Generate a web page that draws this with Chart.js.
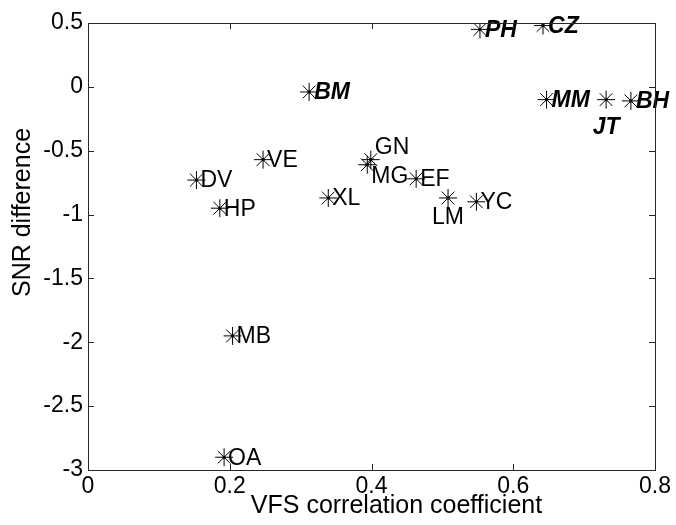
<!DOCTYPE html>
<html>
<head>
<meta charset="UTF-8">
<title>SNR difference vs VFS correlation</title>
<script src="https://cdn.jsdelivr.net/npm/chart.js"></script>
<style>
  body { margin: 0; background: #fff; }
  #wrap { width: 676px; height: 525px; }
</style>
</head>
<body>
<div id="wrap"><canvas id="chart"></canvas></div>
<script>
// subjects
const names = ['DV', 'HP', 'VE', 'BM', 'XL', 'GN', 'MG', 'EF', 'LM', 'YC', 'PH', 'CZ', 'MM', 'JT', 'BH', 'MB', 'OA'];
const vfsCorr = [0.153, 0.186, 0.247, 0.312, 0.339, 0.399, 0.394, 0.463, 0.508, 0.548, 0.553, 0.642, 0.647, 0.731, 0.766, 0.204, 0.192];
const snrDiff = [-0.73, -0.95, -0.57, -0.04, -0.87, -0.57, -0.61, -0.72, -0.87, -0.90, 0.45, 0.48, -0.10, -0.10, -0.11, -1.95, -2.90];

const xTicks = [0, 0.2, 0.4, 0.6, 0.8];
const yTicks = [0.5, 0, -0.5, -1, -1.5, -2, -2.5, -3];
const xTitle = 'VFS correlation coefficient';
const yTitle = 'SNR difference';

// label styling
const boldNames = ['BM', 'PH', 'CZ', 'MM', 'JT', 'BH'];
const labelPlace = {
    GN: { dx: 4, dy: -12, align: 'left' },
    MG: { dx: 4, dy: 12, align: 'left' },
    LM: { dx: 0, dy: 20, align: 'center' },
    JT: { dx: 0, dy: 28, align: 'center' }
};

const FONT = "'Liberation Sans', Arial, sans-serif";
const points = names.map((n, i) => ({ x: vfsCorr[i], y: snrDiff[i] }));

// frame with inward ticks + axis titles, matlab style
const framePlugin = {
    id: 'frame',
    afterDraw(chart) {
        const { ctx, chartArea: a, scales } = chart;
        ctx.save();
        ctx.strokeStyle = '#262626';
        ctx.lineWidth = 1;
        ctx.strokeRect(Math.round(a.left) + 0.5, Math.round(a.top) + 0.5,
            Math.round(a.right - a.left), Math.round(a.bottom - a.top));
        ctx.beginPath();
        xTicks.forEach(v => {
            const px = Math.round(scales.x.getPixelForValue(v)) + 0.5;
            ctx.moveTo(px, a.bottom); ctx.lineTo(px, a.bottom - 6);
            ctx.moveTo(px, a.top); ctx.lineTo(px, a.top + 6);
        });
        yTicks.forEach(v => {
            const py = Math.round(scales.y.getPixelForValue(v)) + 0.5;
            ctx.moveTo(a.left, py); ctx.lineTo(a.left + 6, py);
            ctx.moveTo(a.right, py); ctx.lineTo(a.right - 6, py);
        });
        ctx.stroke();

        // titles sit a bit off-centre in the original
        ctx.fillStyle = '#000';
        ctx.font = '25px ' + FONT;
        ctx.textAlign = 'center';
        ctx.textBaseline = 'middle';
        ctx.fillText(xTitle, (a.left + a.right) / 2 + 25, a.bottom + 36);
        ctx.translate(23, (a.top + a.bottom) / 2 - 34);
        ctx.rotate(-Math.PI / 2);
        ctx.fillText(yTitle, 0, 0);
        ctx.restore();
    }
};

const labelPlugin = {
    id: 'pointLabels',
    afterDatasetsDraw(chart) {
        const ctx = chart.ctx;
        const meta = chart.getDatasetMeta(0);
        ctx.save();
        ctx.fillStyle = '#000';
        ctx.textBaseline = 'middle';
        meta.data.forEach((pt, i) => {
            const n = names[i];
            const bold = boldNames.includes(n);
            const p = labelPlace[n] || { dx: bold ? 5 : 4, dy: 1, align: 'left' };
            ctx.font = (bold ? 'italic bold ' : '') + '23px ' + FONT;
            ctx.textAlign = p.align;
            ctx.fillText(n, pt.x + p.dx, pt.y + p.dy);
        });
        ctx.restore();
    }
};

new Chart(document.getElementById('chart'), {
    type: 'scatter',
    data: {
        datasets: [
            {
                data: points,
                pointStyle: 'star',
                pointRadius: 9,
                pointHoverRadius: 9,
                borderColor: '#000',
                borderWidth: 1,
                backgroundColor: '#000'
            },
            {
                data: points,
                pointStyle: 'circle',
                pointRadius: 1.6,
                pointHoverRadius: 1.6,
                borderWidth: 0,
                backgroundColor: '#000'
            }
        ]
    },
    options: {
        responsive: true,
        maintainAspectRatio: false,
        animation: false,
        layout: { padding: { left: 0, right: 21, top: 23, bottom: 0 } },
        plugins: { legend: { display: false }, tooltip: { enabled: false } },
        scales: {
            x: {
                type: 'linear',
                min: 0, max: 0.8,
                afterFit(s) { s.height = 55; },
                afterBuildTicks(s) { s.ticks = xTicks.map(v => ({ value: v })); },
                grid: { display: false, drawTicks: false },
                border: { display: false },
                ticks: {
                    padding: 3,
                    color: '#000',
                    font: { family: FONT, size: 23 },
                    callback: v => String(+v.toFixed(1))
                }
            },
            y: {
                type: 'linear',
                min: -3, max: 0.5,
                afterFit(s) { s.width = 88; },
                afterBuildTicks(s) { s.ticks = yTicks.map(v => ({ value: v })); },
                grid: { display: false, drawTicks: false },
                border: { display: false },
                ticks: {
                    padding: 5,
                    color: '#000',
                    font: { family: FONT, size: 23 },
                    callback: v => String(+v.toFixed(1))
                }
            }
        }
    },
    plugins: [framePlugin, labelPlugin]
});
</script>
</body>
</html>
